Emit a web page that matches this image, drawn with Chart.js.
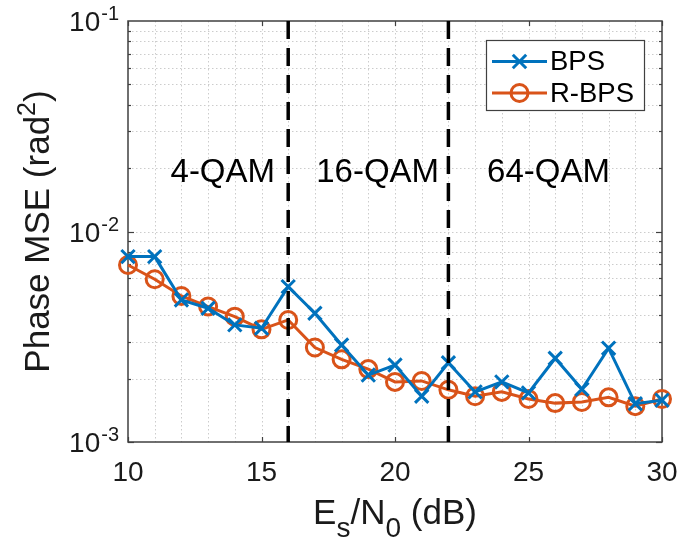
<!DOCTYPE html>
<html>
<head>
<meta charset="utf-8">
<script src="https://cdn.jsdelivr.net/npm/chart.js@4.4.1/dist/chart.umd.min.js"></script>
<style>
  html, body { margin: 0; padding: 0; background: #fff; }
  #wrap { width: 680px; height: 545px; position: relative; }
</style>
</head>
<body>
<div id="wrap"><canvas id="c" width="680" height="545"></canvas></div>
<script>
// ---- data ----
const snrDb = [10, 11, 12, 13, 14, 15, 16, 17, 18, 19, 20, 21, 22, 23, 24, 25, 26, 27, 28, 29, 30];
const mseBPS = [0.0076, 0.0076, 0.00473, 0.00432, 0.0036, 0.00347, 0.00547, 0.00409, 0.00289, 0.00208, 0.00232,
                0.00165, 0.00238, 0.00173, 0.00193, 0.00171, 0.0025, 0.00178, 0.00279, 0.00152, 0.00158];
const mseRBPS = [0.00693, 0.00593, 0.00494, 0.0044, 0.00394, 0.00343, 0.0038, 0.00281, 0.00247, 0.00222, 0.00193,
                 0.00195, 0.00177, 0.00165, 0.00173, 0.0016, 0.00153, 0.00155, 0.00163, 0.00148, 0.0016];
const seriesNames = ['BPS', 'R-BPS'];
const boundaryDb = [16, 22];
const regionNames = ['4-QAM', '16-QAM', '64-QAM'];
const regionCenterDb = [13.55, 19.35, 25.75];
const regionLevel = 0.0189;
const xTickLabels = [10, 15, 20, 25, 30];
const yDecadeExponents = [-3, -2, -1];

const BLUE = '#0072BD';
const ORANGE = '#D95319';
const FONT = '"Liberation Sans", Arial, Helvetica, sans-serif';

const decorPlugin = {
  id: 'decor',
  beforeDatasetsDraw(chart) {
    const ctx = chart.ctx;
    const a = chart.chartArea;
    const xs = chart.scales.x, ys = chart.scales.y;
    ctx.save();
    // grid (dotted)
    ctx.strokeStyle = '#cccccc';
    ctx.lineWidth = 1;
    ctx.setLineDash([1.5, 2.5]);
    for (let v = xs.min + 1; v < xs.max; v++) {
      const px = Math.round(xs.getPixelForValue(v)) + 0.5;
      ctx.beginPath(); ctx.moveTo(px, a.top); ctx.lineTo(px, a.bottom); ctx.stroke();
    }
    for (let i = 0; i < yDecadeExponents.length - 1; i++) {
      for (let m = 1; m <= 9; m++) {
        if (i === 0 && m === 1) continue;
        const v = m * Math.pow(10, yDecadeExponents[i]);
        const py = Math.round(ys.getPixelForValue(v)) + 0.5;
        ctx.beginPath(); ctx.moveTo(a.left, py); ctx.lineTo(a.right, py); ctx.stroke();
      }
    }
    ctx.setLineDash([]);
    // tick marks (inside)
    ctx.strokeStyle = '#404040';
    ctx.lineWidth = 1.2;
    xTickLabels.forEach(v => {
      const px = Math.round(xs.getPixelForValue(v)) + 0.5;
      ctx.beginPath(); ctx.moveTo(px, a.bottom); ctx.lineTo(px, a.bottom - 5); ctx.stroke();
      ctx.beginPath(); ctx.moveTo(px, a.top); ctx.lineTo(px, a.top + 5); ctx.stroke();
    });
    for (let i = 0; i < yDecadeExponents.length - 1; i++) {
      for (let m = 1; m <= 9; m++) {
        const v = m * Math.pow(10, yDecadeExponents[i]);
        const py = Math.round(ys.getPixelForValue(v)) + 0.5;
        const len = m === 1 ? 6 : 3;
        ctx.beginPath(); ctx.moveTo(a.left, py); ctx.lineTo(a.left + len, py); ctx.stroke();
        ctx.beginPath(); ctx.moveTo(a.right, py); ctx.lineTo(a.right - len, py); ctx.stroke();
      }
    }
    // box
    ctx.strokeStyle = '#404040';
    ctx.lineWidth = 1.5;
    ctx.strokeRect(a.left, a.top, a.right - a.left, a.bottom - a.top);
    ctx.restore();
  },
  afterDatasetsDraw(chart) {
    const ctx = chart.ctx;
    const a = chart.chartArea;
    const xs = chart.scales.x, ys = chart.scales.y;
    ctx.save();
    // dashed boundaries
    ctx.strokeStyle = '#000';
    ctx.lineWidth = 3.5;
    ctx.setLineDash([18, 9]);
    boundaryDb.forEach(v => {
      const px = xs.getPixelForValue(v);
      ctx.beginPath(); ctx.moveTo(px, a.top); ctx.lineTo(px, a.bottom); ctx.stroke();
    });
    ctx.setLineDash([]);
    // region names
    ctx.fillStyle = '#000';
    ctx.font = '33px ' + FONT;
    ctx.textAlign = 'center';
    ctx.textBaseline = 'middle';
    regionNames.forEach((t, i) => {
      ctx.fillText(t, xs.getPixelForValue(regionCenterDb[i]), ys.getPixelForValue(regionLevel));
    });
    ctx.restore();
  },
  afterDraw(chart) {
    const ctx = chart.ctx;
    const a = chart.chartArea;
    const xs = chart.scales.x, ys = chart.scales.y;
    ctx.save();
    ctx.fillStyle = '#1a1a1a';
    // y tick labels 10^n
    yDecadeExponents.forEach(e => {
      const py = ys.getPixelForValue(Math.pow(10, e));
      ctx.textBaseline = 'alphabetic';
      ctx.textAlign = 'right';
      ctx.font = '20px ' + FONT;
      const expText = String(e);
      const expW = ctx.measureText(expText).width;
      const right = a.left - 9;
      ctx.fillText(expText, right, py - 1);
      ctx.font = '28px ' + FONT;
      ctx.fillText('10', right - expW - 1, py + 10);
    });
    // x tick labels
    ctx.font = '28px ' + FONT;
    ctx.textAlign = 'center';
    ctx.textBaseline = 'alphabetic';
    xTickLabels.forEach(v => {
      ctx.fillText(String(v), xs.getPixelForValue(v), 481);
    });
    // x axis title: E_s/N_0 (dB)
    function drawParts(parts, cx, baseY) {
      let total = 0;
      parts.forEach(p => { ctx.font = p.s + 'px ' + FONT; p.w = ctx.measureText(p.t).width; total += p.w; });
      let x = cx - total / 2;
      ctx.textAlign = 'left';
      ctx.textBaseline = 'alphabetic';
      parts.forEach(p => { ctx.font = p.s + 'px ' + FONT; ctx.fillText(p.t, x, baseY + p.dy); x += p.w; });
    }
    drawParts([
      { t: 'E', s: 35, dy: 0 },
      { t: 's', s: 28, dy: 13 },
      { t: '/N', s: 35, dy: 0 },
      { t: '0', s: 28, dy: 13 },
      { t: ' (dB)', s: 35, dy: 0 }
    ], (a.left + a.right) / 2, 524);
    // y axis title: Phase MSE (rad^2)
    ctx.translate(49, (a.top + a.bottom) / 2);
    ctx.rotate(-Math.PI / 2);
    drawParts([
      { t: 'Phase MSE (rad', s: 35, dy: 0 },
      { t: '2', s: 25, dy: -14 },
      { t: ')', s: 35, dy: 0 }
    ], 0, 0);
    ctx.restore();

    // legend
    ctx.save();
    const lx = 486.5, ly = 40.5, lw = 158, lh = 70;
    ctx.fillStyle = '#fff';
    ctx.fillRect(lx, ly, lw, lh);
    ctx.strokeStyle = '#404040';
    ctx.lineWidth = 1.2;
    ctx.strokeRect(lx, ly, lw, lh);
    const rows = [
      { y: 61.5, color: BLUE, name: seriesNames[0], marker: 'x' },
      { y: 93, color: ORANGE, name: seriesNames[1], marker: 'o' }
    ];
    rows.forEach(r => {
      ctx.strokeStyle = r.color;
      ctx.lineWidth = 3;
      ctx.beginPath(); ctx.moveTo(492, r.y); ctx.lineTo(547, r.y); ctx.stroke();
      const mx = 519.5;
      if (r.marker === 'x') {
        const h = 6.7;
        ctx.beginPath();
        ctx.moveTo(mx - h, r.y - h); ctx.lineTo(mx + h, r.y + h);
        ctx.moveTo(mx + h, r.y - h); ctx.lineTo(mx - h, r.y + h);
        ctx.stroke();
      } else {
        ctx.beginPath(); ctx.arc(mx, r.y, 8.5, 0, Math.PI * 2); ctx.stroke();
      }
      ctx.fillStyle = '#000';
      ctx.font = '27.5px ' + FONT;
      ctx.textAlign = 'left';
      ctx.textBaseline = 'middle';
      ctx.fillText(r.name, 550, r.y + 1);
    });
    ctx.restore();
  }
};

const ctxEl = document.getElementById('c');
new Chart(ctxEl, {
  type: 'line',
  data: {
    datasets: [
      {
        label: seriesNames[0],
        data: snrDb.map((x, i) => ({ x: x, y: mseBPS[i] })),
        borderColor: BLUE,
        backgroundColor: BLUE,
        borderWidth: 3,
        pointStyle: 'crossRot',
        pointRadius: 9.4,
        pointBorderWidth: 3,
        pointBorderColor: BLUE,
        tension: 0,
        clip: false
      },
      {
        label: seriesNames[1],
        data: snrDb.map((x, i) => ({ x: x, y: mseRBPS[i] })),
        borderColor: ORANGE,
        backgroundColor: 'rgba(0,0,0,0)',
        borderWidth: 3,
        pointStyle: 'circle',
        pointRadius: 8.5,
        pointBorderWidth: 3,
        pointBorderColor: ORANGE,
        pointBackgroundColor: 'rgba(0,0,0,0)',
        tension: 0,
        clip: false
      }
    ]
  },
  options: {
    responsive: false,
    animation: false,
    events: [],
    layout: { padding: { top: 21, right: 18, left: 0, bottom: 0 } },
    plugins: { legend: { display: false }, tooltip: { enabled: false } },
    scales: {
      x: {
        type: 'linear',
        min: snrDb[0],
        max: snrDb[snrDb.length - 1],
        afterFit: s => { s.height = 103; },
        grid: { display: false, drawTicks: false },
        border: { display: false },
        ticks: { display: false }
      },
      y: {
        type: 'logarithmic',
        min: Math.pow(10, yDecadeExponents[0]),
        max: Math.pow(10, yDecadeExponents[yDecadeExponents.length - 1]),
        afterFit: s => { s.width = 128; },
        grid: { display: false },
        border: { display: false },
        ticks: { display: false }
      }
    }
  },
  plugins: [decorPlugin]
});
</script>
</body>
</html>
